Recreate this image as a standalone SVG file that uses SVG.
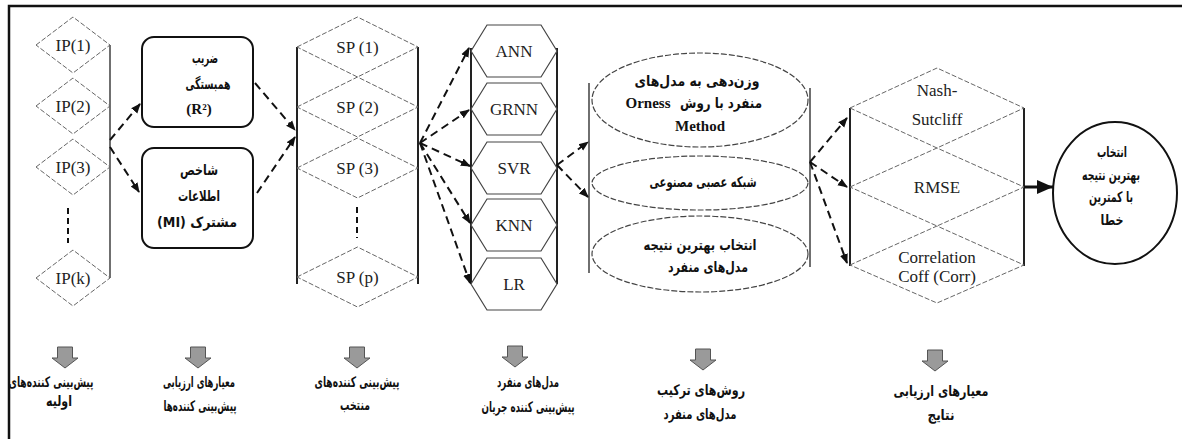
<svg xmlns="http://www.w3.org/2000/svg" width="1182" height="439" viewBox="0 0 1182 439">
<defs>
<marker id="ah" markerUnits="userSpaceOnUse" markerWidth="10" markerHeight="10" viewBox="0 0 10 10" refX="9" refY="5" orient="auto"><path d="M0,1 L10,5 L0,9 z" fill="#111"/></marker>
<marker id="ahb" markerUnits="userSpaceOnUse" markerWidth="16" markerHeight="14" viewBox="0 0 16 14" refX="16" refY="7" orient="auto"><path d="M0,0 L16,7 L0,14 z" fill="#111"/></marker>
<g id="barrow"><path d="M-7.5,-11 L7.5,-11 L7.5,0 L13,0 L0,10 L-13,0 L-7.5,0 z"/></g>
</defs>
<style>
.frame{fill:none;stroke:#111;stroke-width:2.5}
.col{stroke:#222;stroke-width:2;fill:none}
.colt{stroke:#333;stroke-width:1.4;fill:none}
.dia{fill:none;stroke:#666;stroke-width:1;stroke-dasharray:5 2}
.hex{fill:#fff;stroke:#444;stroke-width:1.2}
.ell{fill:none;stroke:#444;stroke-width:1.2;stroke-dasharray:6 2}
.box{fill:#fff;stroke:#111;stroke-width:2}
.conn{fill:none;stroke:#111;stroke-width:2;stroke-dasharray:8 5}
.vdash{fill:none;stroke:#111;stroke-width:2;stroke-dasharray:6 4}
.lat{font-family:"Liberation Serif",serif;font-size:17px;fill:#222;text-anchor:middle;dominant-baseline:central}
.latb{font-family:"Liberation Serif",serif;font-size:15px;font-weight:bold;fill:#111;text-anchor:middle;dominant-baseline:central}
.fa{font-family:"DejaVu Sans",sans-serif;font-size:14.5px;font-weight:bold;fill:#111;text-anchor:middle;dominant-baseline:central}
.blk{fill:#9a9a9a;stroke:#555;stroke-width:1}
</style>
<rect class="frame" x="9" y="6" width="1200" height="460"/>

<g id="ip-column">
<line class="colt" x1="110" y1="45" x2="110" y2="278"/>
<line class="vdash" x1="68" y1="208" x2="68" y2="243"/>
</g>
<g id="ip1"><path class="dia" d="M36,45 L73,17 L110,45 L73,73 z"/><text class="lat" x="73" y="45">IP(1)</text></g>
<g id="ip2"><path class="dia" d="M36,106 L73,78 L110,106 L73,134 z"/><text class="lat" x="73" y="106">IP(2)</text></g>
<g id="ip3"><path class="dia" d="M36,167 L73,139 L110,167 L73,195 z"/><text class="lat" x="73" y="167">IP(3)</text></g>
<g id="ipk"><path class="dia" d="M36,278 L73,250 L110,278 L73,306 z"/><text class="lat" x="73" y="278">IP(k)</text></g>

<g id="box-r2"><rect class="box" x="142" y="37" width="111" height="90" rx="12"/>
<text class="fa" x="205" y="58" textLength="26" lengthAdjust="spacingAndGlyphs">ضریب</text><text class="fa" x="208" y="84" textLength="45" lengthAdjust="spacingAndGlyphs">همبستگی</text><text class="latb" x="199" y="109">(R²)</text></g>
<g id="box-mi"><rect class="box" x="142" y="148" width="111" height="100" rx="12"/>
<text class="fa" x="199" y="170" textLength="38" lengthAdjust="spacingAndGlyphs">شاخص</text><text class="fa" x="199" y="196" textLength="42" lengthAdjust="spacingAndGlyphs">اطلاعات</text><text class="fa" x="197" y="222" direction="rtl" textLength="80" lengthAdjust="spacingAndGlyphs">مشترک (MI)</text></g>

<g id="sp-column">
<line class="col" x1="297" y1="47" x2="297" y2="284"/>
<line class="col" x1="418" y1="47" x2="418" y2="284"/>
<line class="vdash" x1="357" y1="207" x2="357" y2="238"/>
</g>
<g id="sp1"><path class="dia" d="M297,47 L357.5,17 L418,47 L357.5,77 z"/><text class="lat" x="357.5" y="47">SP (1)</text></g>
<g id="sp2"><path class="dia" d="M297,107 L357.5,77 L418,107 L357.5,137 z"/><text class="lat" x="357.5" y="107">SP (2)</text></g>
<g id="sp3"><path class="dia" d="M297,168 L357.5,138 L418,168 L357.5,198 z"/><text class="lat" x="357.5" y="168">SP (3)</text></g>
<g id="spp"><path class="dia" d="M297,277 L357.5,247 L418,277 L357.5,307 z"/><text class="lat" x="357.5" y="277">SP (p)</text></g>

<g id="model-column">
<line class="col" x1="471" y1="48" x2="471" y2="284"/>
<line class="col" x1="557" y1="48" x2="557" y2="284"/>
</g>
<g id="ann"><path class="hex" d="M471,51 L487,25 L541,25 L557,51 L541,77 L487,77 z"/><text class="lat" x="514" y="51">ANN</text></g>
<g id="grnn"><path class="hex" d="M471,109 L487,83 L541,83 L557,109 L541,135 L487,135 z"/><text class="lat" x="514" y="109">GRNN</text></g>
<g id="svr"><path class="hex" d="M471,168 L487,142 L541,142 L557,168 L541,194 L487,194 z"/><text class="lat" x="514" y="168">SVR</text></g>
<g id="knn"><path class="hex" d="M471,225 L487,199 L541,199 L557,225 L541,251 L487,251 z"/><text class="lat" x="514" y="225">KNN</text></g>
<g id="lr"><path class="hex" d="M471,284 L487,258 L541,258 L557,284 L541,310 L487,310 z"/><text class="lat" x="514" y="284">LR</text></g>

<g id="cylinder">
<line class="colt" x1="589" y1="83" x2="589" y2="273"/>
<line class="colt" x1="810" y1="88" x2="810" y2="267"/>
</g>
<g id="orness"><ellipse class="ell" cx="700" cy="100" rx="108" ry="47"/>
<text class="fa" x="697" y="81" textLength="125" lengthAdjust="spacingAndGlyphs">وزن‌دهی به مدل‌های</text>
<text class="fa" x="721" y="103" textLength="82" lengthAdjust="spacingAndGlyphs">منفرد با روش</text>
<text class="latb" x="648" y="103" font-size="14">Orness</text>
<text class="latb" x="700" y="126">Method</text></g>
<g id="ann-comb"><ellipse class="ell" cx="700" cy="183" rx="108" ry="27"/><text class="fa" x="703" y="182" textLength="107" lengthAdjust="spacingAndGlyphs">شبکه عصبی مصنوعی</text></g>
<g id="best-single"><ellipse class="ell" cx="700" cy="254" rx="108" ry="38"/>
<text class="fa" x="700" y="245" textLength="113" lengthAdjust="spacingAndGlyphs">انتخاب بهترین نتیجه</text><text class="fa" x="708" y="267" textLength="80" lengthAdjust="spacingAndGlyphs">مدل‌های منفرد</text></g>

<g id="criteria-column">
<line class="col" x1="850" y1="108" x2="850" y2="266"/>
<line class="col" x1="1024" y1="108" x2="1024" y2="266"/>
</g>
<g id="nash"><path class="dia" d="M850,108 L937,68 L1024,108 L937,148 z"/><text class="lat" x="937" y="90" font-size="16">Nash-</text><text class="lat" x="937" y="119" font-size="16">Sutcliff</text></g>
<g id="rmse"><path class="dia" d="M850,187 L937,148 L1024,187 L937,226 z"/><text class="lat" x="937" y="187" font-size="15">RMSE</text></g>
<g id="corr"><path class="dia" d="M850,265 L937,226 L1024,265 L937,303 z"/><text class="lat" x="937" y="257" font-size="16">Correlation</text><text class="lat" x="937" y="276" font-size="16">Coff (Corr)</text></g>

<g id="final"><ellipse cx="1115" cy="193" rx="62" ry="71" fill="#fff" stroke="#111" stroke-width="2"/>
<text class="fa" x="1112" y="152" textLength="30" lengthAdjust="spacingAndGlyphs">انتخاب</text><text class="fa" x="1111" y="175" textLength="58" lengthAdjust="spacingAndGlyphs">بهترین نتیجه</text><text class="fa" x="1111" y="197" textLength="44" lengthAdjust="spacingAndGlyphs">با کمترین</text><text class="fa" x="1112" y="220" textLength="23" lengthAdjust="spacingAndGlyphs">خطا</text></g>

<g id="connectors">
<path class="conn" d="M110,140 L140,104" marker-end="url(#ah)"/>
<path class="conn" d="M110,147 L139,192" marker-end="url(#ah)"/>
<path class="conn" d="M255,83 L295,130" marker-end="url(#ah)"/>
<path class="conn" d="M257,193 L295,137" marker-end="url(#ah)"/>
<path class="conn" d="M420,143 L469,48" marker-end="url(#ah)"/>
<path class="conn" d="M420,143 L469,110" marker-end="url(#ah)"/>
<path class="conn" d="M420,143 L470,166" marker-end="url(#ah)"/>
<path class="conn" d="M420,143 L470,223" marker-end="url(#ah)"/>
<path class="conn" d="M420,143 L470,283" marker-end="url(#ah)"/>
<path class="conn" d="M557,165 L588,142" marker-end="url(#ah)"/>
<path class="conn" d="M557,165 L588,197" marker-end="url(#ah)"/>
<path class="conn" d="M810,162 L847,118" marker-end="url(#ah)"/>
<path class="conn" d="M810,162 L847,187" marker-end="url(#ah)"/>
<path class="conn" d="M810,162 L847,263" marker-end="url(#ah)"/>
<path d="M1024,187 L1053,187" stroke="#111" stroke-width="3" marker-end="url(#ahb)"/>
</g>

<g id="stage-labels">
<use href="#barrow" class="blk" x="65" y="358"/>
<use href="#barrow" class="blk" x="198" y="358"/>
<use href="#barrow" class="blk" x="357" y="358"/>
<use href="#barrow" class="blk" x="515" y="357"/>
<use href="#barrow" class="blk" x="703" y="360"/>
<use href="#barrow" class="blk" x="935" y="361"/>
<text class="fa" x="51" y="382" textLength="85" lengthAdjust="spacingAndGlyphs">پیش‌بینی کننده‌های</text><text class="fa" x="59" y="401" textLength="26" lengthAdjust="spacingAndGlyphs">اولیه</text>
<text class="fa" x="199" y="382" textLength="72" lengthAdjust="spacingAndGlyphs">معیارهای ارزیابی</text><text class="fa" x="200" y="406" textLength="73" lengthAdjust="spacingAndGlyphs">پیش‌بینی کننده‌ها</text>
<text class="fa" x="357" y="382" textLength="85" lengthAdjust="spacingAndGlyphs">پیش‌بینی کننده‌های</text><text class="fa" x="355" y="405" textLength="30" lengthAdjust="spacingAndGlyphs">منتخب</text>
<text class="fa" x="528" y="382" textLength="62" lengthAdjust="spacingAndGlyphs">مدل‌های منفرد</text><text class="fa" x="528" y="407" textLength="93" lengthAdjust="spacingAndGlyphs">پیش‌بینی کننده جریان</text>
<text class="fa" x="701" y="390" textLength="88" lengthAdjust="spacingAndGlyphs">روش‌های ترکیب</text><text class="fa" x="700" y="414" textLength="73" lengthAdjust="spacingAndGlyphs">مدل‌های منفرد</text>
<text class="fa" x="941" y="391" textLength="95" lengthAdjust="spacingAndGlyphs">معیارهای ارزیابی</text><text class="fa" x="941" y="415" textLength="27" lengthAdjust="spacingAndGlyphs">نتایج</text>
</g>
</svg>
